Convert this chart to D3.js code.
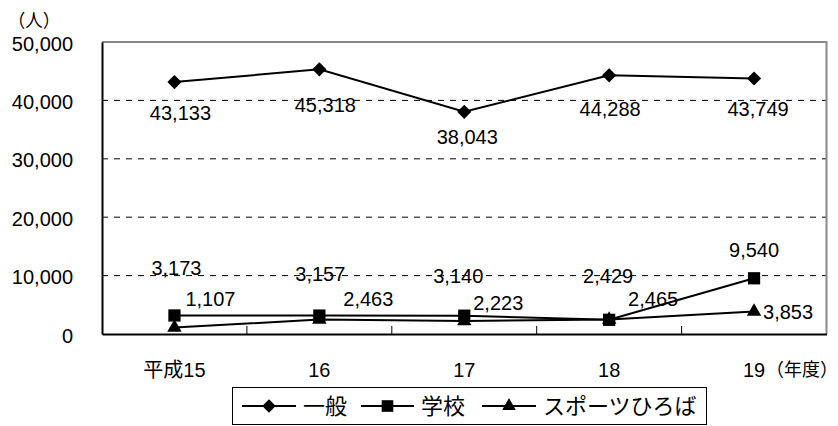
<!DOCTYPE html>
<head>
    <meta charset="utf-8">
    <script src="https://cdnjs.cloudflare.com/ajax/libs/d3/7.8.5/d3.min.js" charset="utf-8"></script>
    <style>
        html, body {
            margin: 0px;
            padding: 0px;
            background: #fff;
        }
        svg {
            display: block;
        }
        text {
            font-family: "Liberation Sans", "Noto Sans CJK JP", sans-serif;
            fill: #000;
        }
        .jp {
            font-family: "Noto Sans CJK JP", sans-serif;
        }
    </style>
</head>

<body>
<svg id="chart1" width="838" height="426"></svg>

<script>
// data
var categories = ["平成15", "16", "17", "18", "19"];
var seriesNames = ["一般", "学校", "スポーツひろば"];
var ippan = [43133, 45318, 38043, 44288, 43749];
var gakkou = [3173, 3157, 3140, 2429, 9540];
var sportsHiroba = [1107, 2463, 2223, 2465, 3853];
var yTicks = [0, 10000, 20000, 30000, 40000, 50000];

// hand-placed label nudges (px from the point), like the excel original
var ippanLabelOffsets = [[6, 31], [6, 35], [3, 25], [1, 33], [4, 30]];
var gakkouLabelOffsets = [[2, -48], [1, -42], [-6, -40], [-1, -44], [0, -28]];
var sportsLabelOffsets = [[36, -29], [49, -21], [34, -18], [44, -21], [34, 0]];

var svg = d3.select('#chart1');
var plotLeft = 102, plotRight = 826.5, plotTop = 42, plotBottom = 334;

var x = d3.scaleBand().domain(categories).range([plotLeft, plotRight]);
var y = d3.scaleLinear().domain([0, 50000]).range([plotBottom, plotTop]);
var cx = function(i) { return x(categories[i]) + x.bandwidth() / 2; };

// dashed grid
svg.append('g').selectAll('line')
    .data(yTicks.filter(function(d) { return d > 0 && d < 50000; }))
    .enter().append('line')
    .attr('x1', plotLeft).attr('x2', plotRight)
    .attr('y1', function(d) { return y(d); })
    .attr('y2', function(d) { return y(d); })
    .style('stroke', '#000')
    .style('stroke-width', 1)
    .style('stroke-dasharray', '6,6');

// frame: gray top / right, black axes
svg.append('path')
    .attr('d', 'M' + plotLeft + ',' + plotTop + 'H' + plotRight + 'V' + plotBottom)
    .style('fill', 'none').style('stroke', '#888').style('stroke-width', 2);

var yAxis = svg.append('g')
    .attr('transform', 'translate(' + plotLeft + ',0)')
    .call(d3.axisLeft(y).tickValues(yTicks).tickSize(0).tickPadding(29).tickFormat(d3.format(',')));
yAxis.select('.domain').style('stroke', '#000').style('stroke-width', 2);
yAxis.selectAll('text').style('font-size', '20px').attr('dy', '0.4em');

var xAxis = svg.append('g')
    .attr('transform', 'translate(0,' + plotBottom + ')')
    .call(d3.axisBottom(x).tickSize(0).tickPadding(27));
xAxis.select('.domain').style('stroke', '#000').style('stroke-width', 2);
xAxis.selectAll('text').style('font-size', '20px').attr('dy', '0.8em');

// inside ticks between categories
svg.append('g').selectAll('line')
    .data(categories.slice(1))
    .enter().append('line')
    .attr('x1', function(d) { return x(d); })
    .attr('x2', function(d) { return x(d); })
    .attr('y1', plotBottom).attr('y2', plotBottom - 8)
    .style('stroke', '#000').style('stroke-width', 1);

svg.append('text')
    .attr('class', 'jp')
    .attr('x', cx(4) + 12).attr('y', plotBottom + 42)
    .style('font-size', '18px')
    .text('（年度）');

svg.append('text')
    .attr('class', 'jp')
    .attr('x', 8).attr('y', 27)
    .attr('textLength', 52).attr('lengthAdjust', 'spacingAndGlyphs')
    .style('font-size', '18px')
    .text('（人）');

var symbols = [
    { type: d3.symbolSquare, size: 100, rotate: 45 },
    { type: d3.symbolSquare, size: 150, rotate: 0 },
    { type: d3.symbolTriangle, size: 90, rotate: 0 }
];

var series = [
    { name: seriesNames[0], values: ippan, offsets: ippanLabelOffsets },
    { name: seriesNames[1], values: gakkou, offsets: gakkouLabelOffsets },
    { name: seriesNames[2], values: sportsHiroba, offsets: sportsLabelOffsets }
];

var line = d3.line()
    .x(function(d, i) { return cx(i); })
    .y(function(d) { return y(d); });

// draw back to front so 一般 sits on top like excel
series.slice().reverse().forEach(function(s) {
    var k = series.indexOf(s);
    svg.append('path')
        .datum(s.values)
        .attr('d', line)
        .style('fill', 'none').style('stroke', '#000').style('stroke-width', 2);
    svg.append('g').selectAll('path')
        .data(s.values)
        .enter().append('path')
        .attr('d', d3.symbol().type(symbols[k].type).size(symbols[k].size))
        .attr('transform', function(d, i) {
            return 'translate(' + cx(i) + ',' + y(d) + ') rotate(' + symbols[k].rotate + ')';
        })
        .style('fill', '#000');
});

series.forEach(function(s) {
    svg.append('g').selectAll('text')
        .data(s.values)
        .enter().append('text')
        .attr('x', function(d, i) { return cx(i) + s.offsets[i][0]; })
        .attr('y', function(d, i) { return y(d) + s.offsets[i][1]; })
        .attr('dy', '0.36em')
        .attr('text-anchor', 'middle')
        .style('font-size', '20px')
        .text(function(d) { return d3.format(',')(d); });
});

// legend
var legend = svg.append('g');
legend.append('rect')
    .attr('x', 232.5).attr('y', 387.5).attr('width', 474).attr('height', 37)
    .style('fill', '#fff').style('stroke', '#000').style('stroke-width', 1);

var legendItems = [
    { x1: 242, x2: 296, tx: 303 },
    { x1: 361, x2: 414, tx: 421 },
    { x1: 482, x2: 536, tx: 543 }
];
series.forEach(function(s, k) {
    var it = legendItems[k], ly = 406;
    legend.append('line')
        .attr('x1', it.x1).attr('x2', it.x2).attr('y1', ly).attr('y2', ly)
        .style('stroke', '#000').style('stroke-width', 2);
    legend.append('path')
        .attr('d', d3.symbol().type(symbols[k].type).size(symbols[k].size * 0.9))
        .attr('transform', 'translate(' + (it.x1 + it.x2) / 2 + ',' + ly + ') rotate(' + symbols[k].rotate + ')')
        .style('fill', '#000');
    legend.append('text')
        .attr('class', 'jp')
        .attr('x', it.tx).attr('y', ly).attr('dy', '0.36em')
        .style('font-size', '22px')
        .text(s.name);
});
</script>

</body>
</html>
